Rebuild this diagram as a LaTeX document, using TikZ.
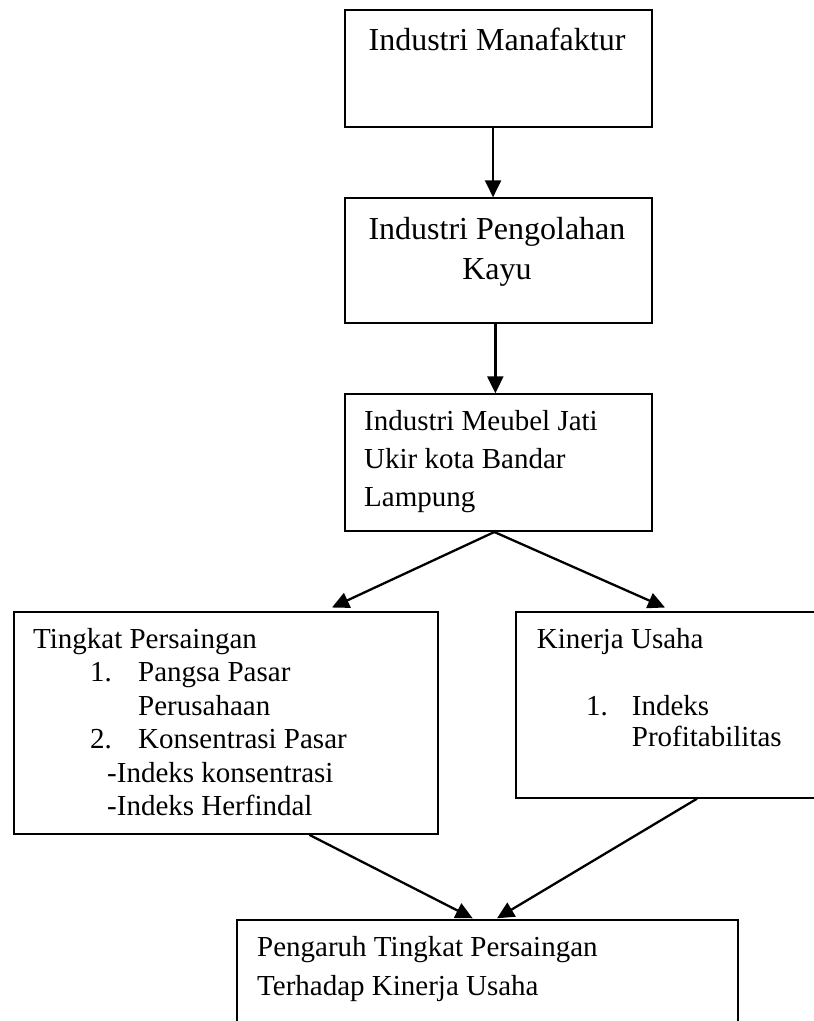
\documentclass[tikz,border=0pt]{standalone}
\usepackage{fontspec}
\setmainfont{Liberation Serif}
\usetikzlibrary{arrows.meta}
\tikzset{
  box/.style={draw, line width=2pt, inner sep=0pt, anchor=north west},
  arr/.style={line width=2.3pt, -{Triangle[length=17pt,width=16pt]}},
  big/.style={inner sep=0pt, font=\fontsize{32}{38}\selectfont},
  sm/.style={inner sep=0pt, font=\fontsize{29}{34}\selectfont},
}
\begin{document}
\begin{tikzpicture}[x=1pt,y=-1pt]
\useasboundingbox (0,0) rectangle (814,1021);
\clip (0,0) rectangle (814,1021);
% boxes
\node[box, minimum width=306.7pt, minimum height=117pt] (b1) at (344,9) {};
\node[box, minimum width=306.7pt, minimum height=125pt] (b2) at (344,197.3) {};
\node[box, minimum width=306.7pt, minimum height=136.7pt] (b3) at (344,393.3) {};
\node[box, minimum width=424pt, minimum height=222.3pt] (b4) at (12.5,610.5) {};
\node[box, minimum width=330pt, minimum height=186.2pt] (b5) at (515,610.5) {};
\node[box, minimum width=501.3pt, minimum height=140pt] (b6) at (236,919.3) {};
% texts
\node[big, anchor=base] (t1) at (497,50) {Industri Manafaktur};
\node[big, anchor=base] (t2a) at (497,239) {Industri Pengolahan};
\node[big, anchor=base] (t2b) at (497,279) {Kayu};
\node[sm, anchor=base west] (t3a) at (364,430) {Industri Meubel Jati};
\node[sm, anchor=base west] (t3b) at (364,468.3) {Ukir kota Bandar};
\node[sm, anchor=base west] (t3c) at (364,506.7) {Lampung};
\node[sm, anchor=base west] (t4a) at (33,648) {Tingkat Persaingan};
\node[sm, anchor=base west] (t4b) at (90,681.7) {1.};
\node[sm, anchor=base west] (t4c) at (138,681.7) {Pangsa Pasar};
\node[sm, anchor=base west] (t4d) at (138,715) {Perusahaan};
\node[sm, anchor=base west] (t4e) at (90,748.3) {2.};
\node[sm, anchor=base west] (t4f) at (138,748.3) {Konsentrasi Pasar};
\node[sm, anchor=base west] (t4g) at (107,782) {-Indeks konsentrasi};
\node[sm, anchor=base west] (t4h) at (107,815.7) {-Indeks Herfindal};
\node[sm, anchor=base west] (t5a) at (536.7,648.3) {Kinerja Usaha};
\node[sm, anchor=base west] (t5b) at (586,715) {1.};
\node[sm, anchor=base west] (t5c) at (631.7,715) {Indeks};
\node[sm, anchor=base west] (t5d) at (631.7,746.7) {Profitabilitas};
\node[sm, anchor=base west] (t6a) at (257,956.7) {Pengaruh Tingkat Persaingan};
\node[sm, anchor=base west] (t6b) at (257,995) {Terhadap Kinerja Usaha};
% connectors
\draw[arr] ([xshift=-5.3pt]b1.south) -- ([xshift=-5.3pt]b2.north);
\draw[arr] ([xshift=-3pt]b2.south) -- ([xshift=-3pt]b3.north);
\draw[arr] ([xshift=-4pt]b3.south) -- ([xshift=-106.5pt,yshift=3pt]b4.north east);
\draw[arr] ([xshift=-4pt]b3.south) -- ([xshift=150pt,yshift=3pt]b5.north west);
\draw[arr] ([xshift=296.8pt]b4.south west) -- ([xshift=236.7pt,yshift=1pt]b6.north west);
\draw[arr] ([xshift=182pt]b5.south west) -- ([xshift=261pt,yshift=1pt]b6.north west);
\end{tikzpicture}
\end{document}
